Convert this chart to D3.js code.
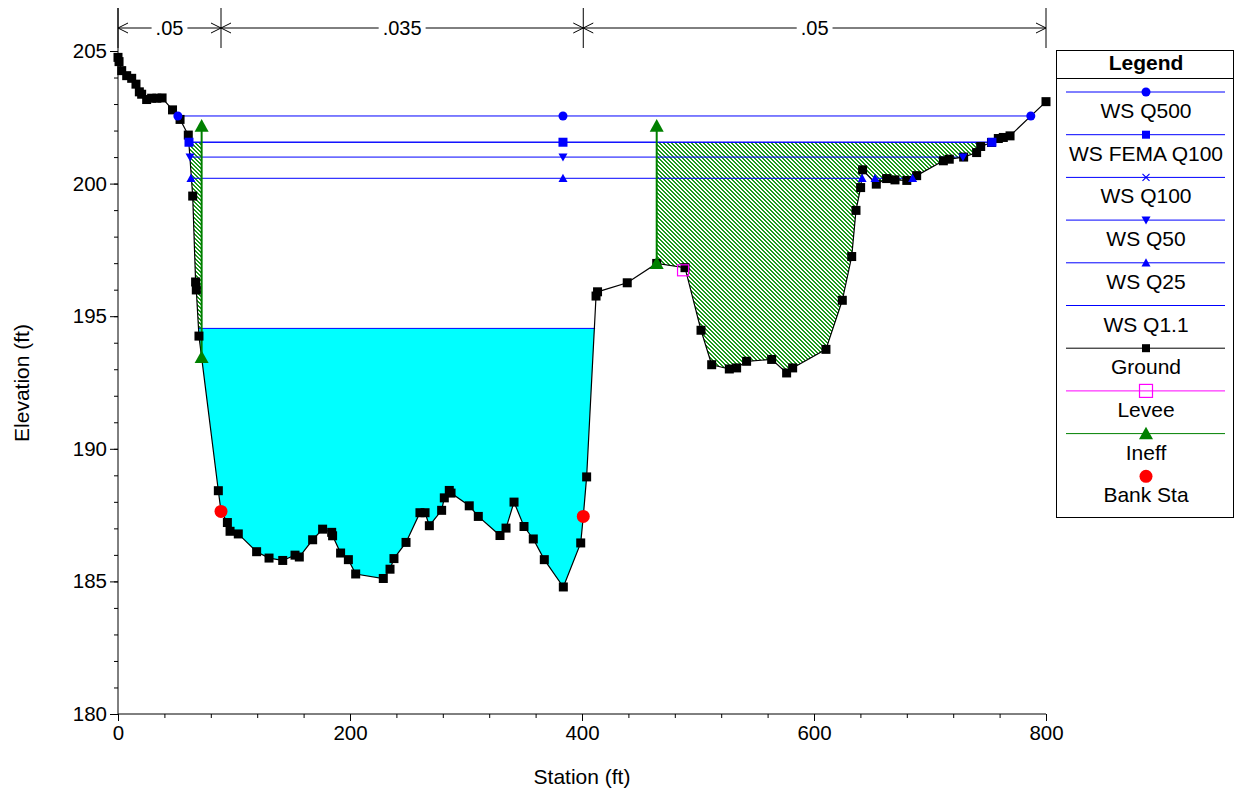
<!DOCTYPE html>
<html lang="en">
<head>
<meta charset="utf-8">
<title>Cross Section</title>
<script src="https://cdn.jsdelivr.net/npm/d3@7"></script>
<style>
body { margin: 0; background: #fff; }
svg text { font-family: "Liberation Sans", Arial, sans-serif; }
</style>
</head>
<body>
<div id="chart"></div>
<script>
// ground points (station, elevation)
var groundSta = [0, 0.9, 3.2, 7.5, 11.8, 15.5, 18.4, 20.4, 24.7, 29, 33.5, 38, 47, 53.5, 60.6,
  64.4, 66.9, 67.5, 69.8, 86.5, 88.8, 94.3, 96.6, 103.7, 119.5, 130.2, 142, 152.6, 156.3, 167.8,
  176.4, 184.2, 185, 191.9, 198.6, 204.9, 228.7, 234.5, 237.9, 248.3, 260.3, 264.7, 268.4, 279, 281.3,
  285.6, 287.1, 302.8, 310.6, 329.3, 334.5, 341.4, 350, 358, 367.5, 383.9, 398.9, 401.1, 404, 412.1,
  413.4, 439, 464.4, 488.8, 502.6, 511.8, 527, 533.3, 541.9, 563.5, 576.4, 581.6, 610.3, 624.4, 632.5,
  636.2, 640.2, 641.9, 653.7, 662.6, 669.8, 680, 688.5, 711.5, 716.6, 729, 740.2, 743.7, 753, 758.9,
  763.2, 769, 800];
var groundElev = [204.76, 204.6, 204.26, 204.07, 203.97, 203.75, 203.46, 203.37, 203.17, 203.22, 203.22, 203.23, 202.78, 202.42, 201.83,
  199.53, 196.29, 195.99, 194.25, 188.42, 187.64, 187.22, 186.89, 186.79, 186.12, 185.88, 185.79, 185.99, 185.92, 186.57,
  186.97, 186.85, 186.72, 186.07, 185.82, 185.28, 185.11, 185.46, 185.86, 186.47, 187.59, 187.59, 187.1, 187.68, 188.15,
  188.43, 188.33, 187.85, 187.45, 186.73, 187.01, 187.99, 187.07, 186.6, 185.82, 184.79, 186.45, 187.45, 188.94, 195.76,
  195.92, 196.26, 196.99, 196.83, 194.47, 193.17, 193.01, 193.05, 193.3, 193.37, 192.86, 193.05, 193.75, 195.6, 197.25,
  198.99, 199.85, 200.52, 199.98, 200.19, 200.14, 200.12, 200.3, 200.86, 200.92, 201.0, 201.17, 201.4, 201.55, 201.7,
  201.74, 201.8, 203.09];

// water surfaces
var wsNames = ["WS Q500", "WS FEMA Q100", "WS Q100", "WS Q50", "WS Q25", "WS Q1.1"];
var wsElev = [202.55, 201.56, 201.56, 201.0, 200.2, 194.54];
var wsExtents = [[[51.6, 786.9]], [[61.2, 753.4]], [[61.2, 753.4]], [[62.1, 728.4]],
  [[62.9, 641.5], [652.6, 685]], [[69.0, 411.3]]];
var wsMarkerSta = [[51.6, 383.6, 786.9], [61.2, 383.6, 753.4], [61.2, 383.6, 753.4],
  [62.1, 383.6, 728.4], [62.9, 383.6, 641.5, 652.6, 685], []];
var wsMarkers = ["circle", "square", "x", "down", "up", "none"];

// ineffective flow areas
var ineffSta = [72.1, 464.4];
var ineffElev = [202.17, 202.17];
var ineffRange = [[0, 72.1], [464.4, 800]];
var ineffFillTop = 201.56;

// levee, bank stations
var leveeSta = [487.1];
var leveeElev = [196.73];
var bankSta = [88.8, 401.1];
var bankElev = [187.64, 187.45];

// Manning's n
var nValues = [".05", ".035", ".05"];
var nBreaks = [0, 88.8, 401.1, 800];

var legendLabels = ["WS Q500", "WS FEMA Q100", "WS Q100", "WS Q50", "WS Q25", "WS Q1.1", "Ground", "Levee", "Ineff", "Bank Sta"];

var W = 1235, H = 792;
var FS = 21;
var x = d3.scaleLinear().domain([0, 800]).range([118, 1046]);
var y = d3.scaleLinear().domain([180, 205]).range([714, 51]);
var topY = 8;

var svg = d3.select("#chart").append("svg")
  .attr("width", W).attr("height", H);

var defs = svg.append("defs");
var pat = defs.append("pattern")
  .attr("id", "hatch")
  .attr("patternUnits", "userSpaceOnUse")
  .attr("width", 4).attr("height", 4);
pat.append("rect").attr("width", 4).attr("height", 4).attr("fill", "#fff");
[[0, 0], [1, 0], [1, 1], [2, 1], [2, 2], [3, 2], [3, 3], [0, 3]].forEach(function(p) {
  pat.append("rect").attr("x", p[0]).attr("y", p[1]).attr("width", 1).attr("height", 1)
    .attr("fill", "#1c9a1c").attr("shape-rendering", "crispEdges");
});

var ground = groundSta.map(function(s, i) { return [s, groundElev[i]]; });

// area above the ground line
var above = "M" + x(0) + "," + topY + " " +
  ground.map(function(d) { return "L" + x(d[0]) + "," + y(d[1]); }).join(" ") +
  " L" + x(800) + "," + topY + " Z";
defs.append("clipPath").attr("id", "aboveGround")
  .append("path").attr("d", above);

function groundAt(s) {
  for (var i = 1; i < ground.length; i++) {
    if (s <= ground[i][0]) {
      var a = ground[i - 1], b = ground[i];
      return a[1] + (b[1] - a[1]) * (s - a[0]) / (b[0] - a[0]);
    }
  }
  return ground[ground.length - 1][1];
}

// ineffective hatch
var fills = svg.append("g").attr("clip-path", "url(#aboveGround)");
ineffRange.forEach(function(r) {
  fills.append("rect")
    .attr("x", x(r[0])).attr("y", y(ineffFillTop))
    .attr("width", x(r[1]) - x(r[0]))
    .attr("height", y(180) - y(ineffFillTop))
    .attr("fill", "url(#hatch)");
});
// Q1.1 water
var q11 = wsExtents[5][0];
fills.append("rect")
  .attr("x", x(q11[0])).attr("y", y(wsElev[5]))
  .attr("width", x(q11[1]) - x(q11[0]))
  .attr("height", y(180) - y(wsElev[5]))
  .attr("fill", "#00ffff");

// axes
var yAxis = d3.axisLeft(y).tickValues(d3.range(180, 206, 5)).tickSize(8).tickPadding(3);
var yMinor = d3.axisLeft(y).tickValues(d3.range(180, 206, 1)).tickSize(4).tickFormat("");
var xAxis = d3.axisBottom(x).tickValues(d3.range(0, 801, 200)).tickSize(7).tickPadding(4);
var xMinor = d3.axisBottom(x).tickValues(d3.range(0, 801, 40)).tickSize(4).tickFormat("");

function styleAxis(g) {
  g.select(".domain").remove();
  g.selectAll("line").attr("stroke", "#000");
  g.selectAll("text").attr("font-size", FS - 0.5).attr("fill", "#000")
    .style("font-family", "'Liberation Sans', Arial, sans-serif");
}
svg.append("g").attr("transform", "translate(" + x(0) + ",0)").call(yMinor).call(styleAxis);
svg.append("g").attr("transform", "translate(" + x(0) + ",0)").call(yAxis).call(styleAxis);
svg.append("g").attr("transform", "translate(0," + y(180) + ")").call(xMinor).call(styleAxis);
svg.append("g").attr("transform", "translate(0," + y(180) + ")").call(xAxis).call(styleAxis);
svg.append("line").attr("x1", x(0)).attr("x2", x(0)).attr("y1", topY).attr("y2", y(180)).attr("stroke", "#000");
svg.append("line").attr("x1", x(0)).attr("x2", x(800)).attr("y1", y(180)).attr("y2", y(180)).attr("stroke", "#000");

svg.append("text").attr("x", 582).attr("y", 784).attr("text-anchor", "middle")
  .attr("font-size", FS).text("Station (ft)");
svg.append("text").attr("transform", "translate(29,383) rotate(-90)").attr("text-anchor", "middle")
  .attr("font-size", FS).text("Elevation (ft)");

// n-value strip
var nY = 28;
var nG = svg.append("g").attr("stroke", "#000").attr("fill", "none");
nBreaks.forEach(function(b) {
  nG.append("line").attr("x1", x(b)).attr("x2", x(b)).attr("y1", topY).attr("y2", 48);
});
nValues.forEach(function(v, i) {
  var a = x(nBreaks[i]), b = x(nBreaks[i + 1]), m = (a + b) / 2;
  var t = svg.append("text").attr("x", m).attr("y", nY + 7).attr("text-anchor", "middle")
    .attr("font-size", FS - 1).text(v);
  var w = t.node().getComputedTextLength() / 2 + 4;
  nG.append("line").attr("x1", a).attr("x2", m - w).attr("y1", nY).attr("y2", nY);
  nG.append("line").attr("x1", m + w).attr("x2", b).attr("y1", nY).attr("y2", nY);
  nG.append("path").attr("d", "M" + (a + 10) + "," + (nY - 5) + " L" + a + "," + nY + " L" + (a + 10) + "," + (nY + 5));
  nG.append("path").attr("d", "M" + (b - 10) + "," + (nY - 5) + " L" + b + "," + nY + " L" + (b - 10) + "," + (nY + 5));
});

function marker(g, type, px, py, s, color) {
  if (type == "circle") {
    g.append("circle").attr("cx", px).attr("cy", py).attr("r", s / 2).attr("fill", color);
  } else if (type == "square") {
    g.append("rect").attr("x", px - s / 2).attr("y", py - s / 2).attr("width", s).attr("height", s).attr("fill", color);
  } else if (type == "open") {
    g.append("rect").attr("x", px - s / 2).attr("y", py - s / 2).attr("width", s).attr("height", s)
      .attr("fill", "none").attr("stroke", color).attr("stroke-width", 1.2);
  } else if (type == "x") {
    var h = s / 2;
    g.append("path").attr("d", "M" + (px - h) + "," + (py - h) + " L" + (px + h) + "," + (py + h) +
      " M" + (px - h) + "," + (py + h) + " L" + (px + h) + "," + (py - h))
      .attr("stroke", color).attr("stroke-width", 1.2);
  } else if (type == "up" || type == "down") {
    var d = type == "up" ? 1 : -1;
    var th = s * 0.9;
    g.append("path").attr("d", "M" + px + "," + (py - d * th * 0.55) + " L" + (px + s / 2) + "," + (py + d * th * 0.45) +
      " L" + (px - s / 2) + "," + (py + d * th * 0.45) + " Z").attr("fill", color);
  }
}

// water surface lines
var wsG = svg.append("g");
wsElev.forEach(function(e, i) {
  wsExtents[i].forEach(function(r) {
    wsG.append("line").attr("x1", x(r[0])).attr("x2", x(r[1]))
      .attr("y1", y(e)).attr("y2", y(e)).attr("stroke", "#0000ff").attr("stroke-width", 1);
  });
});

// ground line
var line = d3.line().x(function(d) { return x(d[0]); }).y(function(d) { return y(d[1]); });
svg.append("path").datum(ground).attr("d", line).attr("fill", "none").attr("stroke", "#000").attr("stroke-width", 1.2);

// ineffective lines
var inG = svg.append("g");
ineffSta.forEach(function(s, i) {
  inG.append("line").attr("x1", x(s)).attr("x2", x(s))
    .attr("y1", y(groundAt(s))).attr("y2", y(ineffElev[i]))
    .attr("stroke", "#008000").attr("stroke-width", 2);
});

// markers
var mG = svg.append("g");
ground.forEach(function(d) { marker(mG, "square", x(d[0]), y(d[1]), 9, "#000"); });
leveeSta.forEach(function(s, i) { marker(mG, "open", x(s), y(leveeElev[i]), 11, "#ff00ff"); });
[2, 1, 0, 3, 4].forEach(function(i) {
  wsMarkerSta[i].forEach(function(s) { marker(mG, wsMarkers[i], x(s), y(wsElev[i]), i == 2 ? 7 : 9, "#0000ff"); });
});
ineffSta.forEach(function(s, i) {
  marker(mG, "up", x(s), y(groundAt(s)), 14, "#008000");
  marker(mG, "up", x(s), y(ineffElev[i]), 14, "#008000");
});
bankSta.forEach(function(s, i) { marker(mG, "circle", x(s), y(bankElev[i]), 13, "#ff0000"); });

// legend
var lg = svg.append("g");
lg.append("rect").attr("x", 1056.5).attr("y", 50.5).attr("width", 177).attr("height", 467)
  .attr("fill", "#fff").attr("stroke", "#000");
lg.append("line").attr("x1", 1056.5).attr("x2", 1233.5).attr("y1", 78.5).attr("y2", 78.5).attr("stroke", "#000");
lg.append("text").attr("x", 1146).attr("y", 70).attr("text-anchor", "middle")
  .attr("font-size", FS).attr("font-weight", "bold").text("Legend");
var legendStyle = [
  { stroke: "#0000ff", marker: "circle", size: 9 },
  { stroke: "#0000ff", marker: "square", size: 8 },
  { stroke: "#0000ff", marker: "x", size: 7 },
  { stroke: "#0000ff", marker: "down", size: 9 },
  { stroke: "#0000ff", marker: "up", size: 9 },
  { stroke: "#0000ff", marker: "none", size: 0 },
  { stroke: "#000", marker: "square", size: 8 },
  { stroke: "#ff00ff", marker: "open", size: 13 },
  { stroke: "#008000", marker: "up", size: 14 },
  { stroke: null, marker: "circle", size: 13, color: "#ff0000" }
];
legendLabels.forEach(function(lab, i) {
  var ly = 92 + i * 42.7;
  var st = legendStyle[i];
  if (st.stroke) {
    lg.append("line").attr("x1", 1066).attr("x2", 1225).attr("y1", ly).attr("y2", ly)
      .attr("stroke", st.stroke).attr("stroke-width", 1);
  }
  marker(lg, st.marker, 1146, ly, st.size, st.color || st.stroke);
  lg.append("text").attr("x", 1146).attr("y", ly + 26).attr("text-anchor", "middle")
    .attr("font-size", FS).text(lab);
});
</script>
</body>
</html>
